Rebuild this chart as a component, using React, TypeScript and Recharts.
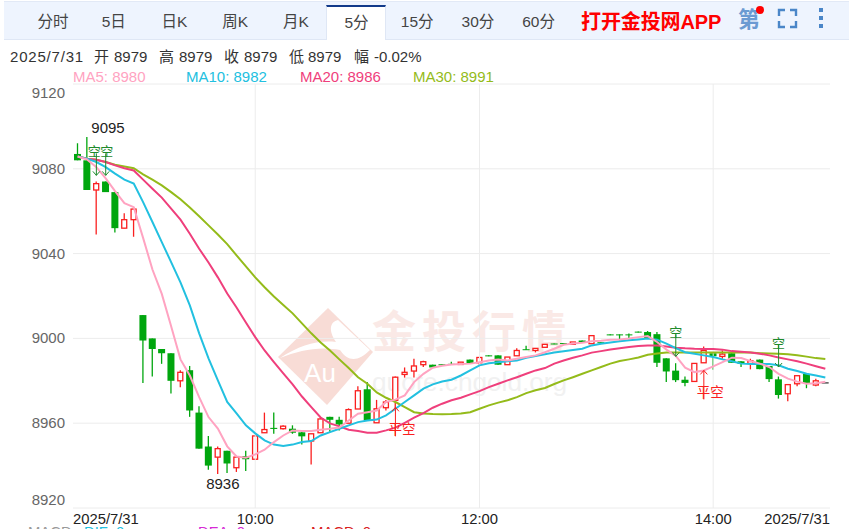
import { Bar, CartesianGrid, ComposedChart, Line, ReferenceDot, ReferenceLine, XAxis, YAxis } from 'recharts';

const UP = '#fa1f1f';
const DOWN = '#00a60e';
const SHORT = '#1f8a2c';
const CN = '"Liberation Sans", "Noto Sans CJK SC", sans-serif';

const opens = [
  9087, 9084, 9070, 9074, 9069, 9052, 9056, 9011, 9000, 8995, 8993, 8980, 8985, 8965, 8949, 8944, 8947, 8939, 8944.5, 8943,
  8955.5, 8957.8, 8957.4, 8957.4, 8955.7, 8951.6, 8955.5, 8963, 8961.6, 8960, 8966.7, 8976, 8960.2, 8967.3, 8970.8, 8983, 8984.6, 8987.6, 8987.6, 8987.8,
  8988, 8987.7, 8990, 8988.5, 8992, 8992, 8987.6, 8991.8, 8994.9, 8994.3, 8995.8, 8997.6, 8997.8, 8997.2, 8999, 8997.5, 8998.2, 9001.9, 9001.9, 9001.9,
  9003.2, 9003, 9002, 8990.6, 8984.8, 8980.5, 8979.7, 8988.5, 8993, 8991.5, 8993, 8989.2, 8988.2, 8990, 8987, 8980.7, 8973.9, 8978.6, 8983.2, 8978, 8979,
];
const closes = [
  9084, 9070, 9073, 9069, 9052, 9056, 9061, 8999, 8995, 8993, 8980, 8984, 8966, 8948, 8940, 8948, 8941, 8944, 8943, 8954,
  8957, 8957.3, 8958.6, 8955.5, 8953.8, 8955, 8962, 8961.6, 8959.4, 8966.4, 8975.3, 8961.3, 8966.8, 8970, 8981.7, 8984, 8987, 8989, 8986.3, 8987.4,
  8987.6, 8988.8, 8988, 8991, 8991.6, 8987.6, 8991.2, 8994.3, 8994.5, 8995.3, 8997.2, 8997.2, 8997.4, 8998.3, 8998, 9001.3, 8997.8, 9001.5, 9001.5, 9001.5,
  9002.8, 9000, 8988.5, 8984.4, 8980.3, 8979, 8988.2, 8994.3, 8991.6, 8992.6, 8988.5, 8988, 8989.5, 8985.5, 8980.8, 8973.3, 8978.2, 8982.4, 8978.8, 8980, 8979,
];
const highs = [
  9092, 9095, 9074, 9074, 9069, 9059, 9062, 9011, 9000, 8995, 8993, 8985, 8987, 8968, 8954, 8949, 8947, 8944, 8947, 8954,
  8965, 8965, 8959, 8959, 8956, 8955, 8963, 8963, 8963, 8967, 8977.4, 8979.4, 8971, 8971, 8982, 8986.3, 8990.4, 8989.5, 8987.6, 8987.8,
  8989, 8988.8, 8990, 8991, 8992, 8992, 8991.2, 8995.3, 8996.5, 8995.3, 8997.2, 8997.6, 8997.8, 8998.3, 8999, 9001.3, 8998.2, 9001.9, 9001.9, 9002.3,
  9003.2, 9003.5, 9003, 8990.6, 8988.3, 8982, 8988.2, 8996.2, 8993, 8994.3, 8993, 8989.2, 8990.4, 8990, 8987, 8982, 8978.2, 8982.4, 8983.2, 8981, 8979,
];
const lows = [
  9084, 9070, 9049, 9069, 9050, 9052, 9048, 8979, 8982, 8988, 8974, 8977, 8963, 8948, 8938, 8936, 8936.5, 8937, 8937.5, 8943,
  8955.5, 8955, 8957, 8955, 8950, 8940.5, 8955.5, 8956, 8956.5, 8960, 8966.7, 8961.3, 8960.2, 8966, 8966, 8981.5, 8981.5, 8986.5, 8986, 8987.4,
  8987.6, 8987.7, 8988, 8987, 8991.6, 8987.6, 8987.6, 8991.8, 8994.5, 8993.4, 8995.8, 8997.2, 8997.4, 8997.2, 8998, 8997.5, 8997.8, 9001.5, 8999, 8999.5,
  9002.8, 9000, 8986.5, 8979.4, 8979.4, 8977.4, 8979.7, 8988.5, 8985.2, 8990.4, 8988.5, 8986.5, 8985.4, 8985.5, 8979.4, 8971.6, 8970.4, 8977.4, 8976.5, 8977.4, 8979,
];

const ma5 = [
  9085.8, 9084.4, 9080.8, 9075.5, 9069.5, 9063.8, 9061.9, 9047.4, 9032.5, 9021, 9005.7, 8990.1, 8982.5, 8972.3, 8962.9, 8957.5, 8949.1, 8944.3, 8943.7, 8945.3,
  8947.5, 8951.1, 8954.2, 8956.6, 8956.3, 8956.3, 8956.9, 8957.4, 8958, 8961.3, 8964.5, 8965.2, 8966, 8970, 8971.1, 8973.1, 8979.4, 8983.3, 8986.2, 8987.1,
  8987.7, 8987.9, 8988.1, 8988.8, 8989.6, 8990, 8989.6, 8990.4, 8991.2, 8992, 8993.5, 8995.1, 8997, 8997.6, 8998, 8998.7, 8998.9, 8999.4, 8999.5, 8999.9,
  9000.6, 9001.1, 8998.3, 8994.7, 8991.7, 8986.2, 8984.1, 8984.9, 8986.8, 8988.8, 8990.9, 8990.7, 8989.3, 8988.1, 8986.5, 8983.3, 8981, 8979.6, 8978.6, 8978.9, 8979.6,
];
const ma10 = [
  9085.8, 9084.8, 9083.2, 9080.8, 9077.7, 9074.9, 9073, 9064.3, 9054.9, 9045.4, 9036, 9026.4, 9015.6, 9002.4, 8990.6, 8980.2, 8970, 8964.6, 8959, 8955.2,
  8951.9, 8949.9, 8949.2, 8949.9, 8951.1, 8951.6, 8954.2, 8955.8, 8957.4, 8959, 8960.5, 8961.3, 8961.7, 8963.7, 8966.8, 8970, 8973.1, 8976.3, 8978.3, 8979.7,
  8980.5, 8982.5, 8984.9, 8987.3, 8988.3, 8988.8, 8989.2, 8989.6, 8990.9, 8991.7, 8992.5, 8993.3, 8993.9, 8994.5, 8995.1, 8996.7, 8997.5, 8998.1, 8998.6, 8999.1,
  8999.5, 8999.9, 8999.4, 8997.5, 8995.4, 8993.5, 8992.8, 8992, 8991.2, 8990.1, 8989.2, 8988.1, 8987.9, 8987.9, 8987.9, 8987.3, 8985.7, 8984.6, 8983.3, 8982.5, 8981.6,
];
const ma20 = [
  9085.8, 9084.8, 9084.3, 9083.2, 9081.6, 9080.3, 9079.2, 9074.9, 9070.6, 9066.4, 9061.2, 9056, 9049.4, 9042.3, 9035.8, 9028.8, 9021.2, 9014.6, 9007.5, 9000.6,
  8994.3, 8988.8, 8983.5, 8978.3, 8972.6, 8967.6, 8962.7, 8959.9, 8958.5, 8956.9, 8956.3, 8955.5, 8955.5, 8956.6, 8957.9, 8960.2, 8962.6, 8964.8, 8967.3, 8969.2,
  8970.8, 8972, 8973.6, 8975.1, 8977, 8978.6, 8980.2, 8981.7, 8983.3, 8984.9, 8986, 8988.1, 8989.6, 8990.9, 8992, 8993.3, 8994, 8994.8, 8995.4, 8995.9,
  8996.4, 8996.7, 8996.6, 8996.2, 8995.6, 8995.3, 8995.1, 8995, 8995, 8994.7, 8994, 8993.7, 8993.3, 8992.8, 8992, 8991, 8990.1, 8989.2, 8988.1, 8986.9, 8985.7,
];
const ma30 = [
  9085.8, 9084.8, 9084.3, 9083.2, 9081.9, 9081.1, 9080.3, 9077.4, 9074.9, 9072.2, 9069, 9065.6, 9061.7, 9057.6, 9053.3, 9049, 9044.5, 9039.2, 9034, 9028.8,
  9024.1, 9019.8, 9015.8, 9011.8, 9007.1, 9002.4, 8998.1, 8994.3, 8990.1, 8986, 8981.7, 8978.6, 8974.5, 8972, 8970, 8967.6, 8965.2, 8964.6, 8964.3, 8964.2,
  8964.3, 8964.6, 8965.2, 8966.8, 8968.4, 8969.7, 8970.8, 8972.3, 8974.2, 8975.5, 8976.6, 8978.5, 8980.2, 8981.7, 8983.3, 8984.9, 8986.5, 8988.1, 8989.3, 8990.1,
  8991, 8992.3, 8992.9, 8993.3, 8993.3, 8993.3, 8993.3, 8993.3, 8993.3, 8993.3, 8993.3, 8993.3, 8993.3, 8993, 8992.9, 8992.8, 8992.5, 8992, 8991.4, 8990.7, 8990.3,
];

const priceTicks = [8920, 8960, 9000, 9040, 9080, 9120];
const timeTickIndex = [0, 19, 43, 68, 80];
const timeTickLabels = ['2025/7/31', '10:00', '12:00', '14:00', '2025/7/31'];
const gridIndex = [19, 43, 68];

const tabs = ['分时', '5日', '日K', '周K', '月K', '5分', '15分', '30分', '60分'];
const infoParts = ['2025/7/31', '开', '8979', '高', '8979', '收', '8979', '低', '8979', '幅', '-0.02%'];
const infoLeft = [10, 94, 114, 159, 179, 224, 244, 289, 308, 354, 374];
const maLegendNames = ['MA5: 8980', 'MA10: 8982', 'MA20: 8986', 'MA30: 8991'];
const maColors = ['#ffa3c1', '#22c0e0', '#ef3f7c', '#94bb1a'];
const macdNames = ['MACD', 'DIF: 0', 'DEA: 0', 'MACD: 0'];

// open short / close short signals on the candles
const shortIndex = [2, 3, 64, 75];
const shortPrice = [9076.9, 9076.9, 8991.5, 8986.5];
const shortTextShift = [-2, 1, 0, 0];
const coverIndex = [34, 67];
const coverPrice = [8967.5, 8984.9];

const rows = opens.map((open, i) => ({
  index: i,
  open,
  close: closes[i],
  high: highs[i],
  low: lows[i],
  ma5: ma5[i],
  ma10: ma10[i],
  ma20: ma20[i],
  ma30: ma30[i],
}));

const PLOT_HEIGHT = 424;
const PX_PER_UNIT = PLOT_HEIGHT / (priceTicks[priceTicks.length - 1] - priceTicks[0]);

function Candle(props: any) {
  const { x, y, width, payload } = props;
  const { open, close, high } = payload;
  const cx = x + width / 2;
  const last = payload.index === rows.length - 1;
  const color = last ? '#000' : close >= open ? UP : DOWN;
  const wickEnd = y + (high - payload.low) * PX_PER_UNIT;
  const top = y + (high - Math.max(open, close)) * PX_PER_UNIT;
  const h = Math.max(Math.abs(open - close) * PX_PER_UNIT, 1);
  if (last) return <rect x={x} y={top - 0.5} width={width} height={1} fill={color} />;
  return (
    <g>
      <line x1={cx} x2={cx} y1={y} y2={wickEnd} stroke={color} strokeWidth={1.3} />
      {close >= open ? (
        <rect x={x + 1} y={top} width={width - 2} height={h} fill="#fff" stroke={color} strokeWidth={1.3} />
      ) : (
        <rect x={x} y={top} width={width} height={h} fill={color} />
      )}
    </g>
  );
}

function PriceTick({ x, y, payload }: any) {
  const shift = payload.value === 9120 ? 9 : payload.value === 8920 ? -8 : 0;
  return (
    <text x={x} y={y + shift} dy={5} textAnchor="end" fontSize={15} fontFamily={CN} fill="#666">
      {payload.value}
    </text>
  );
}

function TimeTick({ x, y, payload }: any) {
  const pos = timeTickIndex.indexOf(payload.value);
  const anchor = pos === 0 ? 'start' : pos === timeTickIndex.length - 1 ? 'end' : 'middle';
  const tx = pos === 0 ? 73 : pos === timeTickIndex.length - 1 ? 830 : x;
  return (
    <text x={tx} y={y} dy={8} textAnchor={anchor} fontSize={14.8} fontFamily={CN} fill="#222">
      {timeTickLabels[pos]}
    </text>
  );
}

function ShortMark({ cx, cy, textShift }: any) {
  return (
    <g stroke={SHORT} fill="none" strokeWidth={1}>
      <line x1={cx} x2={cx} y1={cy - 22} y2={cy} />
      <polyline points={`${cx - 3.5},${cy - 4} ${cx},${cy} ${cx + 3.5},${cy - 4}`} />
      <text x={cx + textShift} y={cy - 19} textAnchor="middle" fontSize={13} fontFamily={CN} fill={SHORT} stroke="none">
        空
      </text>
    </g>
  );
}

function CoverMark({ cx, cy }: any) {
  return (
    <g stroke={UP} fill="none" strokeWidth={1}>
      <line x1={cx} x2={cx} y1={cy + 29} y2={cy} />
      <polyline points={`${cx - 3.5},${cy + 4} ${cx},${cy} ${cx + 3.5},${cy + 4}`} />
      <text x={cx - 7} y={cy + 27} textAnchor="start" fontSize={13.5} fontFamily={CN} fill={UP} stroke="none">
        平空
      </text>
    </g>
  );
}

function PeakLabel({ cx, cy, dx, dy, text }: any) {
  return (
    <text x={cx + dx} y={cy + dy} textAnchor="middle" fontSize={15} fontFamily={CN} fill="#222">
      {text}
    </text>
  );
}

function Header() {
  return (
    <>
      <div style={{ position: 'absolute', left: 4, right: 0, top: 1, height: 37, background: '#eef4fe', borderTop: '1px solid #e2e9f6', borderBottom: '1px solid #dfe7f5' }} />
      <div style={{ position: 'absolute', left: 326, top: 5, width: 60, height: 35, background: '#fff', borderTop: '2px solid #123a8a', boxSizing: 'border-box', borderLeft: '1px solid #dfe7f5', borderRight: '1px solid #dfe7f5' }} />
      {tabs.map((t, i) => (
        <div key={t} style={{ position: 'absolute', left: 23 + i * 60.7, top: 12, width: 60, textAlign: 'center', fontSize: 15.5, lineHeight: '20px', color: '#444', fontFamily: CN, marginTop: i === 5 ? 1 : 0 }}>
          {t}
        </div>
      ))}
      <div style={{ position: 'absolute', left: 581, top: 9, fontSize: 20, lineHeight: '26px', fontWeight: 700, color: '#f00', fontFamily: CN, letterSpacing: -0.1 }}>
        打开金投网APP
      </div>
      <div style={{ position: 'absolute', left: 738, top: 6, fontSize: 22, lineHeight: '28px', fontWeight: 700, color: '#6b9ad2', fontFamily: CN }}>第</div>
      <div style={{ position: 'absolute', left: 756, top: 6, width: 8, height: 8, borderRadius: 4, background: '#f00' }} />
      <svg style={{ position: 'absolute', left: 776, top: 7 }} width={60} height={24} fill="none" stroke="#4a86c8" strokeWidth={2.4}>
        <path d="M9 3H3V9M14 3H20V9M3 14V20H9M20 14V20H14" />
        <g fill="#4a86c8" stroke="none">
          <rect x={43} y={1} width={4} height={4} />
          <rect x={43} y={9} width={4} height={4} />
          <rect x={43} y={17} width={4} height={4} />
        </g>
      </svg>
      {infoParts.map((t, i) => (
        <div key={i} style={{ position: 'absolute', left: infoLeft[i], top: 47, fontSize: 15, lineHeight: '20px', color: '#333', fontFamily: CN, letterSpacing: i === 0 ? 0.8 : 0, whiteSpace: 'pre' }}>
          {t}
        </div>
      ))}
      {maLegendNames.map((t, i) => (
        <div key={t} style={{ position: 'absolute', left: [73, 186, 300, 413][i], top: 67, fontSize: 15, lineHeight: '20px', color: maColors[i], fontFamily: CN }}>
          {t}
        </div>
      ))}
      {macdNames.map((t, i) => (
        <div key={t} style={{ position: 'absolute', left: [28, 84, 198, 311][i], top: 522, fontSize: 14.8, lineHeight: '20px', color: ['#999', '#22c0e0', '#d62ad6', '#d92020'][i], fontFamily: CN }}>
          {t}
        </div>
      ))}
    </>
  );
}

function Watermark() {
  return (
    <>
      <svg style={{ position: 'absolute', left: 270, top: 300 }} width={115} height={110}>
        <path d="M8 57L58 8L103 52L57 105Z" fill="#f8dcd6" />
        <path d="M10 58C30 45 48 40 66 42C58 30 60 22 68 20L100 50C88 62 78 62 70 50C50 46 30 50 10 58Z" fill="#fff" />
        <text x={50} y={82} textAnchor="middle" fontSize={26} fontFamily={CN} fill="#fff">Au</text>
      </svg>
      <div style={{ position: 'absolute', left: 372, top: 306, fontSize: 44, lineHeight: '54px', fontWeight: 700, letterSpacing: 6, color: '#fae9e6', fontFamily: CN, whiteSpace: 'nowrap' }}>
        金投行情
      </div>
      <div style={{ position: 'absolute', left: 372, top: 364, fontSize: 26.2, lineHeight: '36px', color: '#f1f1f1', fontFamily: CN, whiteSpace: 'nowrap' }}>
        quote.cngold.org
      </div>
    </>
  );
}

export default function App() {
  return (
    <div style={{ position: 'absolute', left: 0, top: 0, width: 849, height: 529, overflow: 'hidden', background: '#fff' }}>
      <Header />
      <Watermark />
      <div style={{ position: 'absolute', left: 0, top: 0 }}>
        <ComposedChart width={849} height={529} data={rows} margin={{ top: 84, right: 19, left: 0, bottom: 0 }} barSize={7}>
          <CartesianGrid stroke="#ececec" vertical={false} />
          <XAxis dataKey="index" type="category" ticks={timeTickIndex} interval={0} height={21} tickLine={false} axisLine={false} tick={<TimeTick />} />
          <YAxis domain={[8920, 9120]} ticks={priceTicks} width={73} tickLine={false} axisLine={false} tick={<PriceTick />} allowDataOverflow />
          {gridIndex.map((i) => (
            <ReferenceLine key={i} x={i} stroke="#ececec" />
          ))}
          <Bar dataKey={(d: any) => [d.low, d.high]} shape={<Candle />} isAnimationActive={false} />
          <Line type="linear" dataKey="ma30" stroke={maColors[3]} strokeWidth={2} dot={false} isAnimationActive={false} />
          <Line type="linear" dataKey="ma20" stroke={maColors[2]} strokeWidth={2} dot={false} isAnimationActive={false} />
          <Line type="linear" dataKey="ma10" stroke={maColors[1]} strokeWidth={2} dot={false} isAnimationActive={false} />
          <Line type="linear" dataKey="ma5" stroke={maColors[0]} strokeWidth={2} dot={false} isAnimationActive={false} />
          {shortIndex.map((i, k) => (
            <ReferenceDot key={`s${i}`} x={i} y={shortPrice[k]} shape={<ShortMark textShift={shortTextShift[k]} />} ifOverflow="visible" />
          ))}
          {coverIndex.map((i, k) => (
            <ReferenceDot key={`c${i}`} x={i} y={coverPrice[k]} shape={<CoverMark />} ifOverflow="visible" />
          ))}
          <ReferenceDot x={1} y={9095} shape={<PeakLabel dx={21} dy={-4} text="9095" />} ifOverflow="visible" />
          <ReferenceDot x={15} y={8936} shape={<PeakLabel dx={5} dy={15} text="8936" />} ifOverflow="visible" />
        </ComposedChart>
      </div>
    </div>
  );
}
